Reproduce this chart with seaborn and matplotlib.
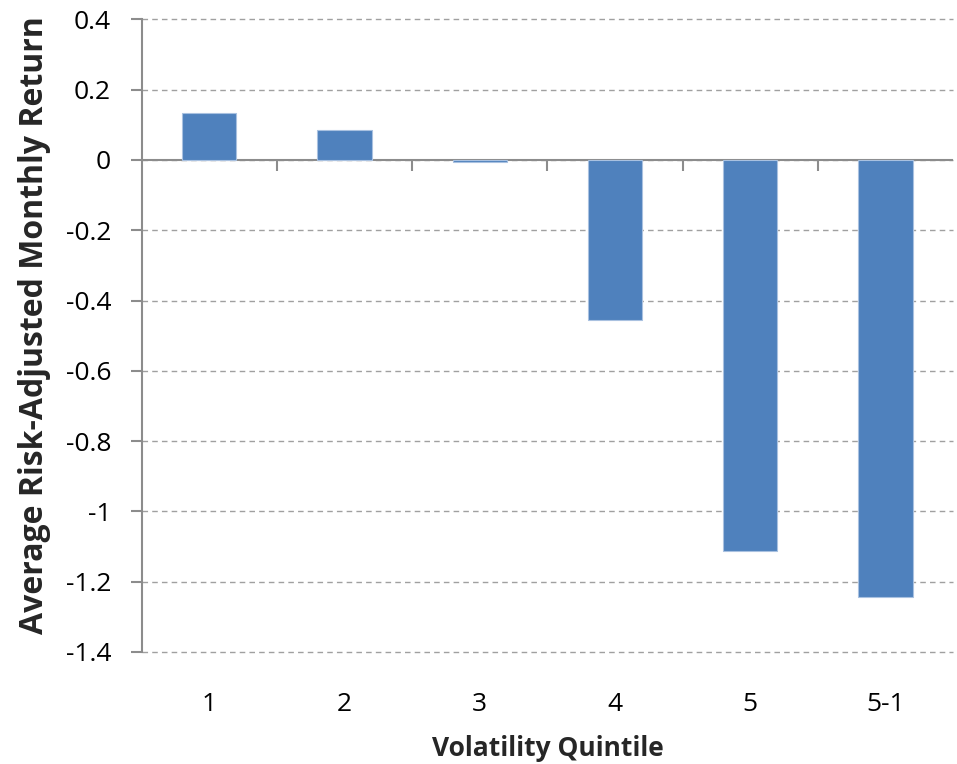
import numpy as np
import matplotlib.pyplot as plt
import seaborn as sns
import pandas as pd

# data
quintiles = ["1", "2", "3", "4", "5", "5-1"]
returns = [0.134, 0.085, -0.006, -0.454, -1.113, -1.244]
y_ticks = [0.4, 0.2, 0, -0.2, -0.4, -0.6, -0.8, -1, -1.2, -1.4]

sns.set_style("white")
plt.rcParams['font.family'] = ['Open Sans', 'DejaVu Sans']

df = pd.DataFrame({"quintile": quintiles, "ret": returns})

fig = plt.figure(figsize=(9.57, 7.64), dpi=100)
ax = fig.add_axes([0.148, 0.1466, 0.848, 0.828])

sns.barplot(data=df, x="quintile", y="ret", color="#4F81BD", saturation=1,
            width=0.4, edgecolor="#A9C1E0", linewidth=0.8, ax=ax, zorder=3)

ax.set_ylim(-1.4, 0.4)
ax.set_xlim(-0.5, len(quintiles) - 0.5)
ax.set_yticks(y_ticks)
ax.set_yticklabels([("%g" % t) for t in y_ticks], fontsize=19, color="black")
ax.yaxis.grid(True, linestyle=(0, (4, 3)), color="#A0A0A0", linewidth=1, zorder=0)
for gl in ax.get_ygridlines():
    gl.set_clip_on(False)
ax.set_axisbelow(True)

# zero line with category boundary tick marks (Excel-like)
ax.axhline(0, color="#8C8C8C", linewidth=1.5, zorder=2)
bounds = np.arange(len(quintiles) + 1) - 0.5
ax.vlines(bounds[1:-1], -0.03, 0, color="#8C8C8C", linewidth=1.5, zorder=2)

for s in ["top", "right", "bottom"]:
    ax.spines[s].set_visible(False)
ax.spines["left"].set_color("#8C8C8C")
ax.spines["left"].set_linewidth(1.5)

ax.tick_params(axis="y", left=True, length=8, width=1.5, color="#8C8C8C", pad=14)
ax.tick_params(axis="x", bottom=False, length=0, pad=29, labelsize=19,
               labelcolor="black")

ax.set_xlabel("Volatility Quintile", fontsize=19, fontweight="bold", labelpad=13)
ax.set_ylabel("Average Risk-Adjusted Monthly Return", fontsize=23,
              fontweight="bold")
ax.yaxis.set_label_coords(-0.1115, 0.517)

plt.savefig("out.png", dpi=100)
